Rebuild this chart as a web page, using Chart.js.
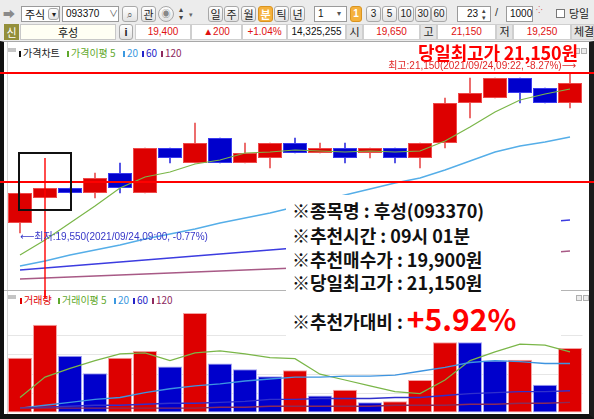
<!DOCTYPE html>
<html>
<head>
<meta charset="utf-8">
<script src="https://cdn.jsdelivr.net/npm/chart.js@4.4.1/dist/chart.umd.min.js"></script>
<style>
html,body{margin:0;padding:0;}
body{width:594px;height:419px;position:relative;overflow:hidden;background:#ececec;font-family:"Noto Sans CJK KR","Noto Sans",sans-serif;}
.a{position:absolute;box-sizing:border-box;white-space:nowrap;}
.btn{position:absolute;box-sizing:border-box;border:1px solid #a8a8a8;border-radius:3px;background:linear-gradient(#ffffff,#e2e2e2);font-size:11px;line-height:14px;height:16px;text-align:center;color:#222;white-space:nowrap;}
.fld{position:absolute;box-sizing:border-box;border:1px solid #9a9a9a;background:#fff;font:10px "Liberation Sans","Noto Sans CJK KR";line-height:14px;height:16px;color:#111;padding-left:3px;white-space:nowrap;}
.cell{position:absolute;box-sizing:border-box;border:1px solid #cfcfcf;background:#fff;font:10px "Liberation Sans","Noto Sans CJK KR";line-height:14px;height:16px;text-align:center;color:#e01010;white-space:nowrap;overflow:hidden;}
.hdr{background:#e4e4e4;color:#222;font-size:11px;}
.on{background:#f5b13c;border-color:#d99420;color:#fff;font-weight:bold;}
.lg{position:absolute;font-size:10px;line-height:12px;white-space:nowrap;}
.mk{position:absolute;width:2px;height:6px;}
.info{position:absolute;left:292px;font-size:18px;font-weight:bold;color:#111;line-height:20px;white-space:nowrap;}
canvas{position:absolute;left:0;}
</style>
</head>
<body>
<!-- toolbar, row 1 -->
<div class="a" style="left:3px;top:5px;font-size:12px;color:#8a8a8a;">➡</div>
<div class="fld" style="left:21px;top:6px;width:39px;font-family:'Noto Sans CJK KR';font-size:11px;">주식</div>
<div class="btn" style="left:48px;top:8px;width:11px;height:12px;line-height:10px;font-size:8px;">▾</div>
<div class="fld" style="left:62px;top:6px;width:57px;">093370<span style="position:absolute;left:46px;color:#555;font-size:9px;">∨</span></div>
<div class="btn" style="left:122px;top:6px;width:16px;font-size:10px;color:#666;">⌕</div>
<div class="btn" style="left:141px;top:6px;width:15px;">관</div>
<div class="btn" style="left:158px;top:6px;width:16px;border-radius:8px;color:#888;font-size:9px;">◉</div>
<div class="a" style="left:179px;top:5px;font-size:8px;line-height:8px;color:#444;">▴<br>▾</div>
<div class="a" style="left:189px;top:9px;font-size:7px;color:#666;">▾</div>
<div class="btn" style="left:208px;top:6px;width:15px;">일</div>
<div class="btn" style="left:224px;top:6px;width:15px;">주</div>
<div class="btn" style="left:241px;top:6px;width:15px;">월</div>
<div class="btn on" style="left:258px;top:6px;width:15px;">분</div>
<div class="btn" style="left:274px;top:6px;width:15px;">틱</div>
<div class="btn" style="left:290px;top:6px;width:15px;">년</div>
<div class="fld" style="left:314px;top:6px;width:33px;">1<span style="position:absolute;left:22px;color:#555;font-size:8px;">▾</span></div>
<div class="btn on" style="left:350px;top:6px;width:12px;font:bold 10px 'Liberation Sans';line-height:14px;">1</div>
<div class="btn" style="left:366px;top:6px;width:15px;font:10px 'Liberation Sans';line-height:14px;">3</div>
<div class="btn" style="left:382px;top:6px;width:15px;font:10px 'Liberation Sans';line-height:14px;">5</div>
<div class="btn" style="left:398px;top:6px;width:16px;font:10px 'Liberation Sans';line-height:14px;">10</div>
<div class="btn" style="left:415px;top:6px;width:16px;font:10px 'Liberation Sans';line-height:14px;">30</div>
<div class="btn" style="left:431px;top:6px;width:16px;font:10px 'Liberation Sans';line-height:14px;">60</div>
<div class="fld" style="left:457px;top:6px;width:34px;text-align:right;padding-right:12px;">23</div>
<div class="a" style="left:482px;top:7px;font-size:7px;line-height:7px;color:#444;">▴<br>▾</div>
<div class="a" style="left:495px;top:6px;font:11px 'Liberation Sans';color:#333;">/</div>
<div class="fld" style="left:506px;top:6px;width:27px;">1000</div>
<div class="a" style="left:536px;top:6px;font-size:8px;line-height:8px;color:#d04040;">⁘</div>
<div class="a" style="left:556px;top:9px;width:9px;height:9px;border:1px solid #777;background:#fff;"></div>
<div class="a" style="left:569px;top:5px;font-size:11px;color:#222;">당일</div>

<!-- toolbar, row 2 -->
<div class="a" style="left:4px;top:24px;width:15px;height:16px;background:#938f3a;color:#fff;font-size:11px;line-height:16px;text-align:center;">신</div>
<div class="a" style="left:20px;top:24px;width:96px;height:16px;border:1px solid #c8c8c8;background:#fffff4;font-size:11px;line-height:14px;text-align:center;color:#111;">후성</div>
<div class="btn" style="left:119px;top:24px;width:14px;font:bold 11px 'Liberation Sans';line-height:14px;">i</div>
<div class="cell" style="left:135px;top:24px;width:56px;">19,400</div>
<div class="cell" style="left:191px;top:24px;width:51px;">▲200</div>
<div class="cell" style="left:242px;top:24px;width:45px;">+1.04%</div>
<div class="cell" style="left:287px;top:24px;width:59px;color:#111;">14,325,255</div>
<div class="cell hdr" style="left:346px;top:24px;width:17px;">시</div>
<div class="cell" style="left:363px;top:24px;width:57px;">19,650</div>
<div class="cell hdr" style="left:420px;top:24px;width:17px;">고</div>
<div class="cell" style="left:437px;top:24px;width:59px;">21,150</div>
<div class="cell hdr" style="left:496px;top:24px;width:17px;">저</div>
<div class="cell" style="left:513px;top:24px;width:58px;">19,250</div>
<div class="cell hdr" style="left:571px;top:24px;width:23px;text-align:left;padding-left:2px;">체결</div>

<!-- chart window frame -->
<div class="a" style="left:0;top:41px;width:594px;height:378px;background:#fff;border-left:4px solid #111;border-right:5px solid #1b1b1b;border-bottom:5px solid #111;border-top:1px solid #a8a8a8;"></div>
<div class="a" style="left:7px;top:42px;width:1px;height:372px;background:#d6d6d6;"></div>
<div class="a" style="left:4px;top:290px;width:585px;height:1px;background:#b4b4b4;"></div>

<!-- price panel legend -->
<div class="a" style="left:8px;top:48px;width:8px;height:4px;background:#c4c4c4;"></div>
<div class="mk" style="left:19px;top:51px;background:#111;"></div><div class="lg" style="left:23px;top:47px;color:#222;">가격차트</div>
<div class="mk" style="left:67px;top:51px;background:#5fa82c;"></div><div class="lg" style="left:71px;top:47px;color:#5fa82c;">가격이평 5</div>
<div class="mk" style="left:123px;top:51px;background:#3b98e0;"></div><div class="lg" style="left:127px;top:47px;color:#3b98e0;">20</div>
<div class="mk" style="left:142px;top:51px;background:#2424c8;"></div><div class="lg" style="left:146px;top:47px;color:#2424c8;">60</div>
<div class="mk" style="left:161px;top:51px;background:#8e2a5e;"></div><div class="lg" style="left:165px;top:47px;color:#8e2a5e;">120</div>
<div class="a" style="left:574px;top:48px;width:6px;height:6px;border:1px solid #b0b0b0;background:#ececec;"></div>
<div class="a" style="left:581px;top:48px;width:6px;height:6px;border:1px solid #b0b0b0;background:#ececec;"></div>

<!-- volume panel legend -->
<div class="a" style="left:8px;top:295px;width:8px;height:4px;background:#c4c4c4;"></div>
<div class="mk" style="left:20px;top:298px;background:#e00000;"></div><div class="lg" style="left:24px;top:294px;color:#e00000;">거래량</div>
<div class="mk" style="left:58px;top:298px;background:#5fa82c;"></div><div class="lg" style="left:62px;top:294px;color:#5fa82c;">거래이평 5</div>
<div class="mk" style="left:114px;top:298px;background:#3b98e0;"></div><div class="lg" style="left:118px;top:294px;color:#3b98e0;">20</div>
<div class="mk" style="left:133px;top:298px;background:#2424c8;"></div><div class="lg" style="left:137px;top:294px;color:#2424c8;">60</div>
<div class="mk" style="left:152px;top:298px;background:#8e2a5e;"></div><div class="lg" style="left:156px;top:294px;color:#8e2a5e;">120</div>
<div class="a" style="left:576px;top:295px;width:6px;height:6px;border:1px solid #b0b0b0;background:#ececec;"></div>
<div class="a" style="left:583px;top:295px;width:6px;height:6px;border:1px solid #b0b0b0;background:#ececec;"></div>

<canvas id="vol" width="594" height="129" style="top:290px;"></canvas>
<canvas id="price" width="594" height="256" style="top:42px;"></canvas>

<!-- summary card -->
<div class="a" style="left:286px;top:195px;width:275px;height:145px;background:#fff;"></div>
<div class="info" id="l1" style="top:200px;"></div>
<div class="info" id="l2" style="top:225px;"></div>
<div class="info" id="l3" style="top:249px;"></div>
<div class="info" id="l4" style="top:272px;"></div>
<div class="info" id="l5" style="top:308px;"></div>
<div class="a" id="headline" style="left:418px;top:39px;font-size:18px;font-weight:bold;color:#ff0000;letter-spacing:-0.2px;"></div>

<script>
// 1-minute bars, 2021/09/24 09:00 - 09:22
const times = ['09:00','09:01','09:02','09:03','09:04','09:05','09:06','09:07','09:08','09:09','09:10','09:11',
               '09:12','09:13','09:14','09:15','09:16','09:17','09:18','09:19','09:20','09:21','09:22'];
const openP  = [19650,19900,20000,19950,20150,19950,20400,20250,20500,20250,20300,20450,20350,20400,20350,20400,20300,20450,20850,20900,21100,21000,20850];
const highP  = [19950,20000,20000,20150,20250,20400,20400,20650,20500,20450,20450,20500,20450,20450,20400,20400,20450,20900,21100,21100,21100,21000,21150];
const lowP   = [19550,19900,19950,19900,19950,19950,20250,20250,20250,20250,20200,20350,20350,20250,20300,20250,20200,20400,20700,20900,20850,20850,20800];
const closeP = [19950,20000,19950,20100,20000,20400,20300,20450,20250,20350,20450,20350,20400,20300,20400,20300,20450,20850,20950,21100,20950,20850,21050];

// price moving averages
const priceMa5   = [19330,19480,19650,19820,20000,20110,20160,20240,20280,20350,20360,20380,20370,20360,20370,20360,20370,20470,20610,20760,20880,20940,20990];
const priceMa20  = [19220,19270,19330,19380,19430,19490,19540,19590,19650,19700,19750,19810,19870,19930,19990,20050,20100,20180,20270,20360,20420,20460,20510];
const priceMa60  = [19180,19200,19220,19240,19260,19280,19300,19320,19340,19360,19380,19400,19420,19440,19460,19490,19510,19540,19570,19600,19630,19660,19680];
const priceMa120 = [19090,19100,19110,19120,19130,19140,19150,19160,19170,19180,19190,19200,19210,19220,19230,19250,19260,19280,19300,19320,19340,19350,19370];

// volume (thousand shares) and its moving averages
const volume  = [57,91,59,41,57,64,48,103,51,45,38,44,18,24,11,12,34,73,73,54,55,29,67];
const volMa5   = [16,37,46,54,61,62,54,62,64,61,57,56,40,34,28,22,20,34,54,63,71,70,63];
const volMa20  = [5,8,11,14,16,21,25,28,30,33,35,37,37,38,38,39,43,47,52,54,53,51,51];
const volMa60  = [5,6,7,8,8,9,10,10,11,12,14,14,15,15,15,16,16,18,20,21,22,22,23];
const volMa120 = [5,5,5,5,5,5,5,5,6,6,7,7,7,7,7,8,8,8,9,9,10,10,11];

// markers
const stockName = '후성', stockCode = '093370';
const dayHigh = 21150, dayHighIdx = 22, dayHighPct = '-8.27%';
const dayLow = 19550, dayLowIdx = 0, dayLowPct = '-0.77%';
const recIndex = 1, recPrice = 19900, recGain = '+5.92%';
const guideLevel = 20060;
const boxFromIdx = 0, boxToIdx = 2, boxTop = 20350, boxBottom = 19780;
const recLineTop = 20300;

const RED = '#dd0000', BLUE = '#0000cc';
const fmt = v => v.toLocaleString('en-US');
const tradeDate = '2021/09/24';

// summary card text
const [hh, mm] = times[recIndex].split(':');
document.getElementById('l1').textContent = `※종목명 : ${stockName}(${stockCode})`;
document.getElementById('l2').textContent = `※추천시간 : ${hh}시 ${mm}분`;
document.getElementById('l3').textContent = `※추천매수가 : ${fmt(recPrice)}원`;
document.getElementById('l4').textContent = `※당일최고가 : ${fmt(dayHigh)}원`;
document.getElementById('l5').innerHTML = `※추천가대비 : <span style="color:#ff0000;font-size:30px;vertical-align:-2px;">${recGain}</span>`;
document.getElementById('headline').textContent = `당일최고가 ${fmt(dayHigh)}원`;

const up = closeP.map((c, i) => c >= openP[i]);
const bodyFill = up.map(u => u ? RED : BLUE);
const bodyEdge = up.map(u => u ? '#ee4a4a' : '#3a3aee');
const wickFill = up.map(u => u ? '#e85050' : '#3434e0');
const volUp = volume.map((v, i) => i === 0 || v > volume[i - 1]);

const hidden = {legend: {display: false}, tooltip: {enabled: false}};
const flatLine = (data, color, w) => ({type: 'line', data, borderColor: color, borderWidth: w,
  pointRadius: 0, tension: 0, fill: false, order: 0});
const gridY = (min, max, step) => ({
  min, max,
  ticks: {display: false, stepSize: step},
  border: {display: false},
  grid: {drawTicks: false, lineWidth: 1,
         color: c => (c.tick.value % step === 0 && c.tick.value > min) ? '#e6e6e6' : 'rgba(0,0,0,0)'},
  afterFit(s) { s.width = 0; }
});

const priceMarkup = {
  id: 'priceMarkup',
  afterDatasetsDraw(chart) {
    const {ctx, width, height} = chart;
    const x = chart.scales.x, y = chart.scales.y;
    ctx.save();
    // horizontal levels
    ctx.strokeStyle = '#ff0000';
    ctx.lineWidth = 2;
    [dayHigh, guideLevel].forEach(v => {
      const py = Math.round(y.getPixelForValue(v));
      ctx.beginPath(); ctx.moveTo(0, py); ctx.lineTo(width, py); ctx.stroke();
    });
    // entry marker
    const rx = x.getPixelForValue(recIndex);
    ctx.lineWidth = 1.4;
    ctx.beginPath(); ctx.moveTo(rx, y.getPixelForValue(recLineTop)); ctx.lineTo(rx, height); ctx.stroke();
    const bx0 = x.getPixelForValue(boxFromIdx) - 1, bx1 = x.getPixelForValue(boxToIdx) + 1;
    const by0 = y.getPixelForValue(boxTop), by1 = y.getPixelForValue(boxBottom);
    ctx.strokeStyle = '#111';
    ctx.lineWidth = 2;
    ctx.strokeRect(bx0, by0, bx1 - bx0, by1 - by0);
    // high / low captions
    ctx.font = '10px "Liberation Sans", "Noto Sans CJK KR", "DejaVu Sans"';
    ctx.textBaseline = 'middle';
    ctx.fillStyle = '#e02828';
    ctx.textAlign = 'right';
    ctx.fillText(`최고:${fmt(dayHigh)}(${tradeDate},${times[dayHighIdx]}, ${dayHighPct})⟶`,
                 x.getPixelForValue(dayHighIdx) + 6, y.getPixelForValue(dayHigh) - 7);
    ctx.fillStyle = '#3636c8';
    ctx.textAlign = 'left';
    ctx.fillText(`⟵최저:${fmt(dayLow)}(${tradeDate},${times[dayLowIdx]}, ${dayLowPct})`,
                 x.getPixelForValue(dayLowIdx), y.getPixelForValue(dayLow) + 4);
    ctx.restore();
  }
};

new Chart(document.getElementById('price'), {
  type: 'bar',
  data: {
    labels: times,
    datasets: [
      flatLine(priceMa120, '#a85a86', 1.4),
      flatLine(priceMa60, '#3c3ce0', 1.4),
      flatLine(priceMa20, '#55aee8', 1.4),
      flatLine(priceMa5, '#7ab648', 1.2),
      {type: 'bar', data: openP.map((o, i) => [o, closeP[i]]), backgroundColor: bodyFill, borderColor: bodyEdge,
       borderWidth: 1, borderSkipped: false, barPercentage: 0.96, categoryPercentage: 1, grouped: false, order: 1},
      {type: 'bar', data: lowP.map((l, i) => [l, highP[i]]), backgroundColor: wickFill,
       barThickness: 1, grouped: false, order: 2}
    ]
  },
  options: {
    responsive: false, animation: false, events: [],
    layout: {padding: {left: 7.5, right: 11.5, top: 16, bottom: 10}},
    plugins: hidden,
    scales: {x: {display: false, offset: true}, y: gridY(19000, 21300, 500)}
  },
  plugins: [priceMarkup]
});

const volMarkup = {
  id: 'volMarkup',
  afterDatasetsDraw(chart) {
    const {ctx} = chart;
    const rx = chart.scales.x.getPixelForValue(recIndex);
    ctx.save();
    ctx.strokeStyle = '#ff0000'; ctx.lineWidth = 1.4;
    ctx.beginPath(); ctx.moveTo(rx, 0); ctx.lineTo(rx, 8); ctx.stroke();
    ctx.restore();
  }
};

new Chart(document.getElementById('vol'), {
  type: 'bar',
  data: {
    labels: times,
    datasets: [
      flatLine(volMa120, '#8a2a58', 1.4),
      flatLine(volMa60, '#3030cc', 1.4),
      flatLine(volMa20, '#3d94e0', 1.4),
      flatLine(volMa5, '#7ab648', 1.2),
      {type: 'bar', data: volume, backgroundColor: volUp.map(u => u ? RED : BLUE),
       borderColor: volUp.map(u => u ? '#f3a2a2' : '#a4a4f2'), borderWidth: 1, borderSkipped: false,
       barPercentage: 0.96, categoryPercentage: 1, order: 1}
    ]
  },
  options: {
    responsive: false, animation: false, events: [],
    layout: {padding: {left: 7.5, right: 11.5, top: 16.3, bottom: 6}},
    plugins: hidden,
    scales: {x: {display: false, offset: true}, y: gridY(0, 110, 20)}
  },
  plugins: [volMarkup]
});
</script>
</body>
</html>
